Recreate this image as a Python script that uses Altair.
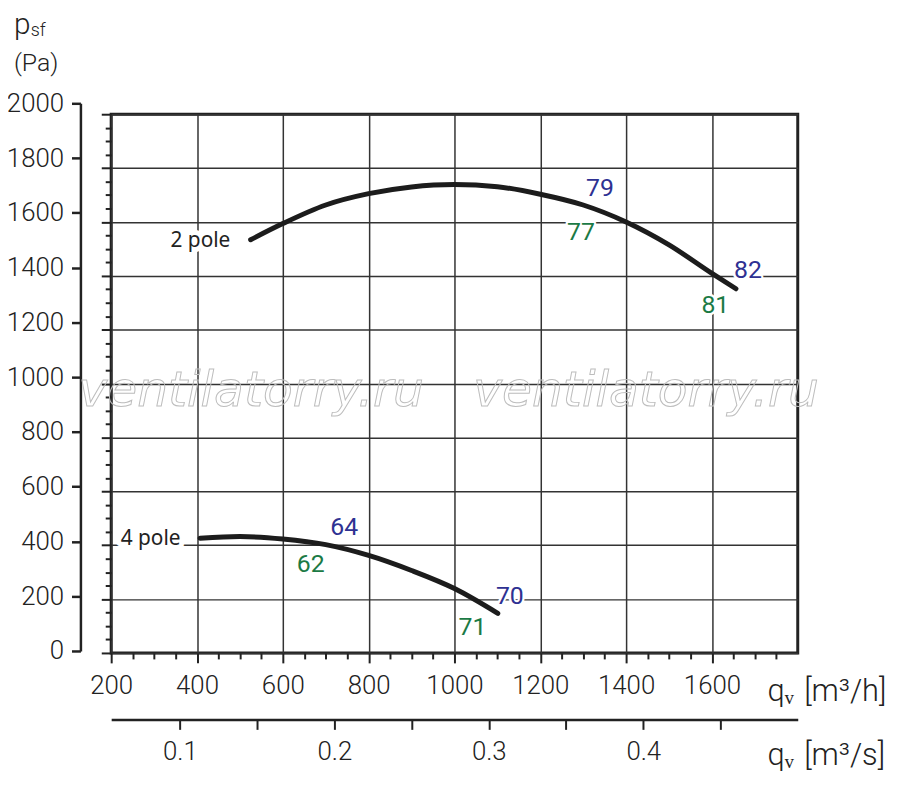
import altair as alt
import pandas as pd

# fan curves (qv in m3/h, psf in Pa)
qv_2pole = [525, 600, 700, 800, 900, 1000, 1100, 1200, 1300, 1400, 1500, 1600, 1656]
p_2pole = [1534, 1594, 1663, 1705, 1730, 1739, 1731, 1703, 1663, 1600, 1515, 1409, 1352]
qv_4pole = [407, 500, 600, 700, 800, 900, 1000, 1101]
p_4pole = [426, 432, 423, 402, 362, 306, 239, 147]

# sound level labels along the curves
lvl_text = ['79', '82', '64', '70', '77', '81', '62', '71']
lvl_qv = [1339, 1684, 743, 1129, 1295, 1608, 665, 1042]
lvl_p = [1725, 1422, 467, 210, 1561, 1293, 329, 97]
lvl_kind = ['top', 'top', 'top', 'top', 'bottom', 'bottom', 'bottom', 'bottom']

pole_text = ['2 pole', '4 pole']
pole_qv = [408, 292]
pole_p = [1528, 423]

wm_text = ['ventilatorry.ru', 'ventilatorry.ru']
wm_qv = [124, 1044]
wm_p = [918, 918]

y_major = list(range(0, 2001, 200))
y_minor = list(range(0, 2001, 50))
x_minor = list(range(200, 1751, 50))
s_ticks = [0.1, 0.15, 0.2, 0.25, 0.3, 0.35, 0.4, 0.45]

#%%
curves = pd.concat([
    pd.DataFrame({'qv': qv_2pole, 'p': p_2pole, 'curve': '2 pole'}),
    pd.DataFrame({'qv': qv_4pole, 'p': p_4pole, 'curve': '4 pole'}),
])
levels = pd.DataFrame({'qv': lvl_qv, 'p': lvl_p, 't': lvl_text, 'kind': lvl_kind})
poles = pd.DataFrame({'qv': pole_qv, 'p': pole_p, 't': pole_text})
marks = pd.DataFrame({'qv': wm_qv, 'p': wm_p, 't': wm_text})

FONT = 'Roboto'
INK = '#222222'
W = 300  # light weight, closer to the original typeface
major = 'datum.value % 200 === 0'

xs = alt.Scale(domain=[200, 1800], nice=False, zero=False)
ys = alt.Scale(domain=[0, 2000], nice=False, zero=False)

x_axis = alt.Axis(
    orient='bottom', values=x_minor, format='d',
    labelExpr="datum.value % 200 === 0 ? datum.label : ''",
    labelOverlap=False, labelFlush=False,
    labelFont=FONT, labelFontSize=26, labelFontWeight=W, labelColor=INK, labelPadding=10,
    domain=False,
    tickSize={'condition': {'test': major, 'value': 10}, 'value': 6},
    tickWidth=2, tickColor=INK,
    grid=True, gridColor='#333333', gridWidth=1.5,
    gridOpacity={'condition': {'test': major, 'value': 1}, 'value': 0},
    title='qᵥ\u2004[m³/h]', titleFont=FONT, titleFontSize=31, titleFontWeight=W,
    titleColor=INK, titleAlign='left', titleBaseline='alphabetic',
    titleX=661, titleY=48, titleAngle=0,
)

x_enc = alt.X('qv:Q', scale=xs, axis=x_axis)
y_enc = alt.Y('p:Q', scale=ys, axis=None)

lines = alt.Chart(curves).mark_line(
    color='#1c1c1c', strokeWidth=5, strokeCap='round', interpolate='monotone'
).encode(x=x_enc, y=y_enc, detail='curve:N')

watermark = alt.Chart(marks).mark_text(
    font='DejaVu Sans', fontSize=49, fontStyle='italic', align='left',
    baseline='alphabetic', fillOpacity=0, stroke='#bdbdbd', strokeWidth=1
).encode(x=x_enc, y=y_enc, text='t:N')

pole_halo = alt.Chart(poles).mark_text(
    font='Noto Sans', fontSize=21, stroke='white', strokeWidth=10,
    strokeJoin='round', fill='white'
).encode(x=x_enc, y=y_enc, text='t:N')
pole_lbl = alt.Chart(poles).mark_text(
    font='Noto Sans', fontSize=21, color=INK
).encode(x=x_enc, y=y_enc, text='t:N')

lvl_halo = alt.Chart(levels).mark_text(
    font=FONT, fontSize=25, fontWeight=W, stroke='white', strokeWidth=5,
    strokeJoin='round', fill='white'
).encode(x=x_enc, y=y_enc, text='t:N')
lvl_lbl = alt.Chart(levels).mark_text(font=FONT, fontSize=25).encode(
    x=x_enc, y=y_enc, text='t:N',
    color=alt.Color('kind:N', scale=alt.Scale(domain=['top', 'bottom'],
                                              range=['#2e3192', '#1b7a45']),
                    legend=None),
)

# y axis caption: p with subscript sf, then (Pa)
cap_p = alt.Chart(pd.DataFrame({'t': ['p']})).mark_text(
    font=FONT, fontSize=30, fontWeight=W, align='left', baseline='alphabetic', color=INK
).encode(text='t:N', x=alt.value(-98), y=alt.value(-81))
cap_sf = alt.Chart(pd.DataFrame({'t': ['sf']})).mark_text(
    font=FONT, fontSize=18, fontWeight=W, align='left', baseline='alphabetic', color=INK
).encode(text='t:N', x=alt.value(-81), y=alt.value(-79))
cap_pa = alt.Chart(pd.DataFrame({'t': ['(Pa)']})).mark_text(
    font=FONT, fontSize=25, fontWeight=W, align='left', baseline='alphabetic', color=INK
).encode(text='t:N', x=alt.value(-98), y=alt.value(-44))

main = alt.layer(lines, watermark, pole_halo, pole_lbl, lvl_halo, lvl_lbl,
                 cap_p, cap_sf, cap_pa)

# detached left axis with the tick labels (sits a little higher than the box)
left_axis = alt.Chart(curves).mark_point(opacity=0).encode(
    x=alt.X('qv:Q', scale=xs, axis=None),
    y=alt.Y('p:Q', scale=alt.Scale(domain=[0, 2000], range=[541, -11], nice=False),
            axis=alt.Axis(orient='left', offset=31, values=y_major, format='d',
                          labelFont=FONT, labelFontSize=26, labelFontWeight=W,
                          labelColor=INK, labelPadding=8, labelFlush=False,
                          labelOverlap=False, domainColor=INK, domainWidth=2.5,
                          tickSize=9, tickWidth=2.5, tickColor=INK,
                          grid=False, title=None)),
)

# minor ticks and horizontal grid on the box itself
box_ticks = alt.Chart(curves).mark_point(opacity=0).encode(
    x=alt.X('qv:Q', scale=xs, axis=None),
    y=alt.Y('p:Q', scale=ys,
            axis=alt.Axis(orient='left', values=y_minor, labels=False, domain=False,
                          tickSize={'condition': {'test': major, 'value': 10}, 'value': 6},
                          tickWidth=2, tickColor=INK,
                          grid=True, gridColor='#333333', gridWidth=1.5,
                          gridOpacity={'condition': {'test': major, 'value': 1}, 'value': 0},
                          title=None)),
)

# second flow axis in m3/s
flow_s = alt.Chart(curves).mark_point(opacity=0).transform_calculate(
    qs='datum.qv / 3600'
).encode(
    x=alt.X('qs:Q', scale=alt.Scale(domain=[200 / 3600, 1800 / 3600], nice=False, zero=False),
            axis=alt.Axis(orient='bottom', offset=67, values=s_ticks, format='.2~f',
                          labelExpr="length(datum.label) <= 3 ? datum.label : ''",
                          labelOverlap=False, labelFlush=False,
                          labelFont=FONT, labelFontSize=26, labelFontWeight=W,
                          labelColor=INK, labelPadding=9,
                          domainColor=INK, domainWidth=2.5,
                          tickSize=10, tickWidth=2, tickColor=INK, grid=False,
                          title='qᵥ\u2004[m³/s]', titleFont=FONT, titleFontSize=31,
                          titleFontWeight=W, titleColor=INK, titleAlign='left',
                          titleBaseline='alphabetic', titleX=661, titleY=45, titleAngle=0)),
    y=alt.Y('p:Q', scale=ys, axis=None),
)

chart = alt.layer(main, left_axis, box_ticks, flow_s).resolve_scale(
    x='independent', y='independent'
).properties(
    width=692, height=543,
    autosize=alt.AutoSizeParams(type='none'),
    padding={'left': 104, 'top': 104, 'right': 95, 'bottom': 126},
).configure_view(stroke=INK, strokeWidth=3)

chart.save('out.html', embed_options={'renderer': 'svg', 'actions': False})
